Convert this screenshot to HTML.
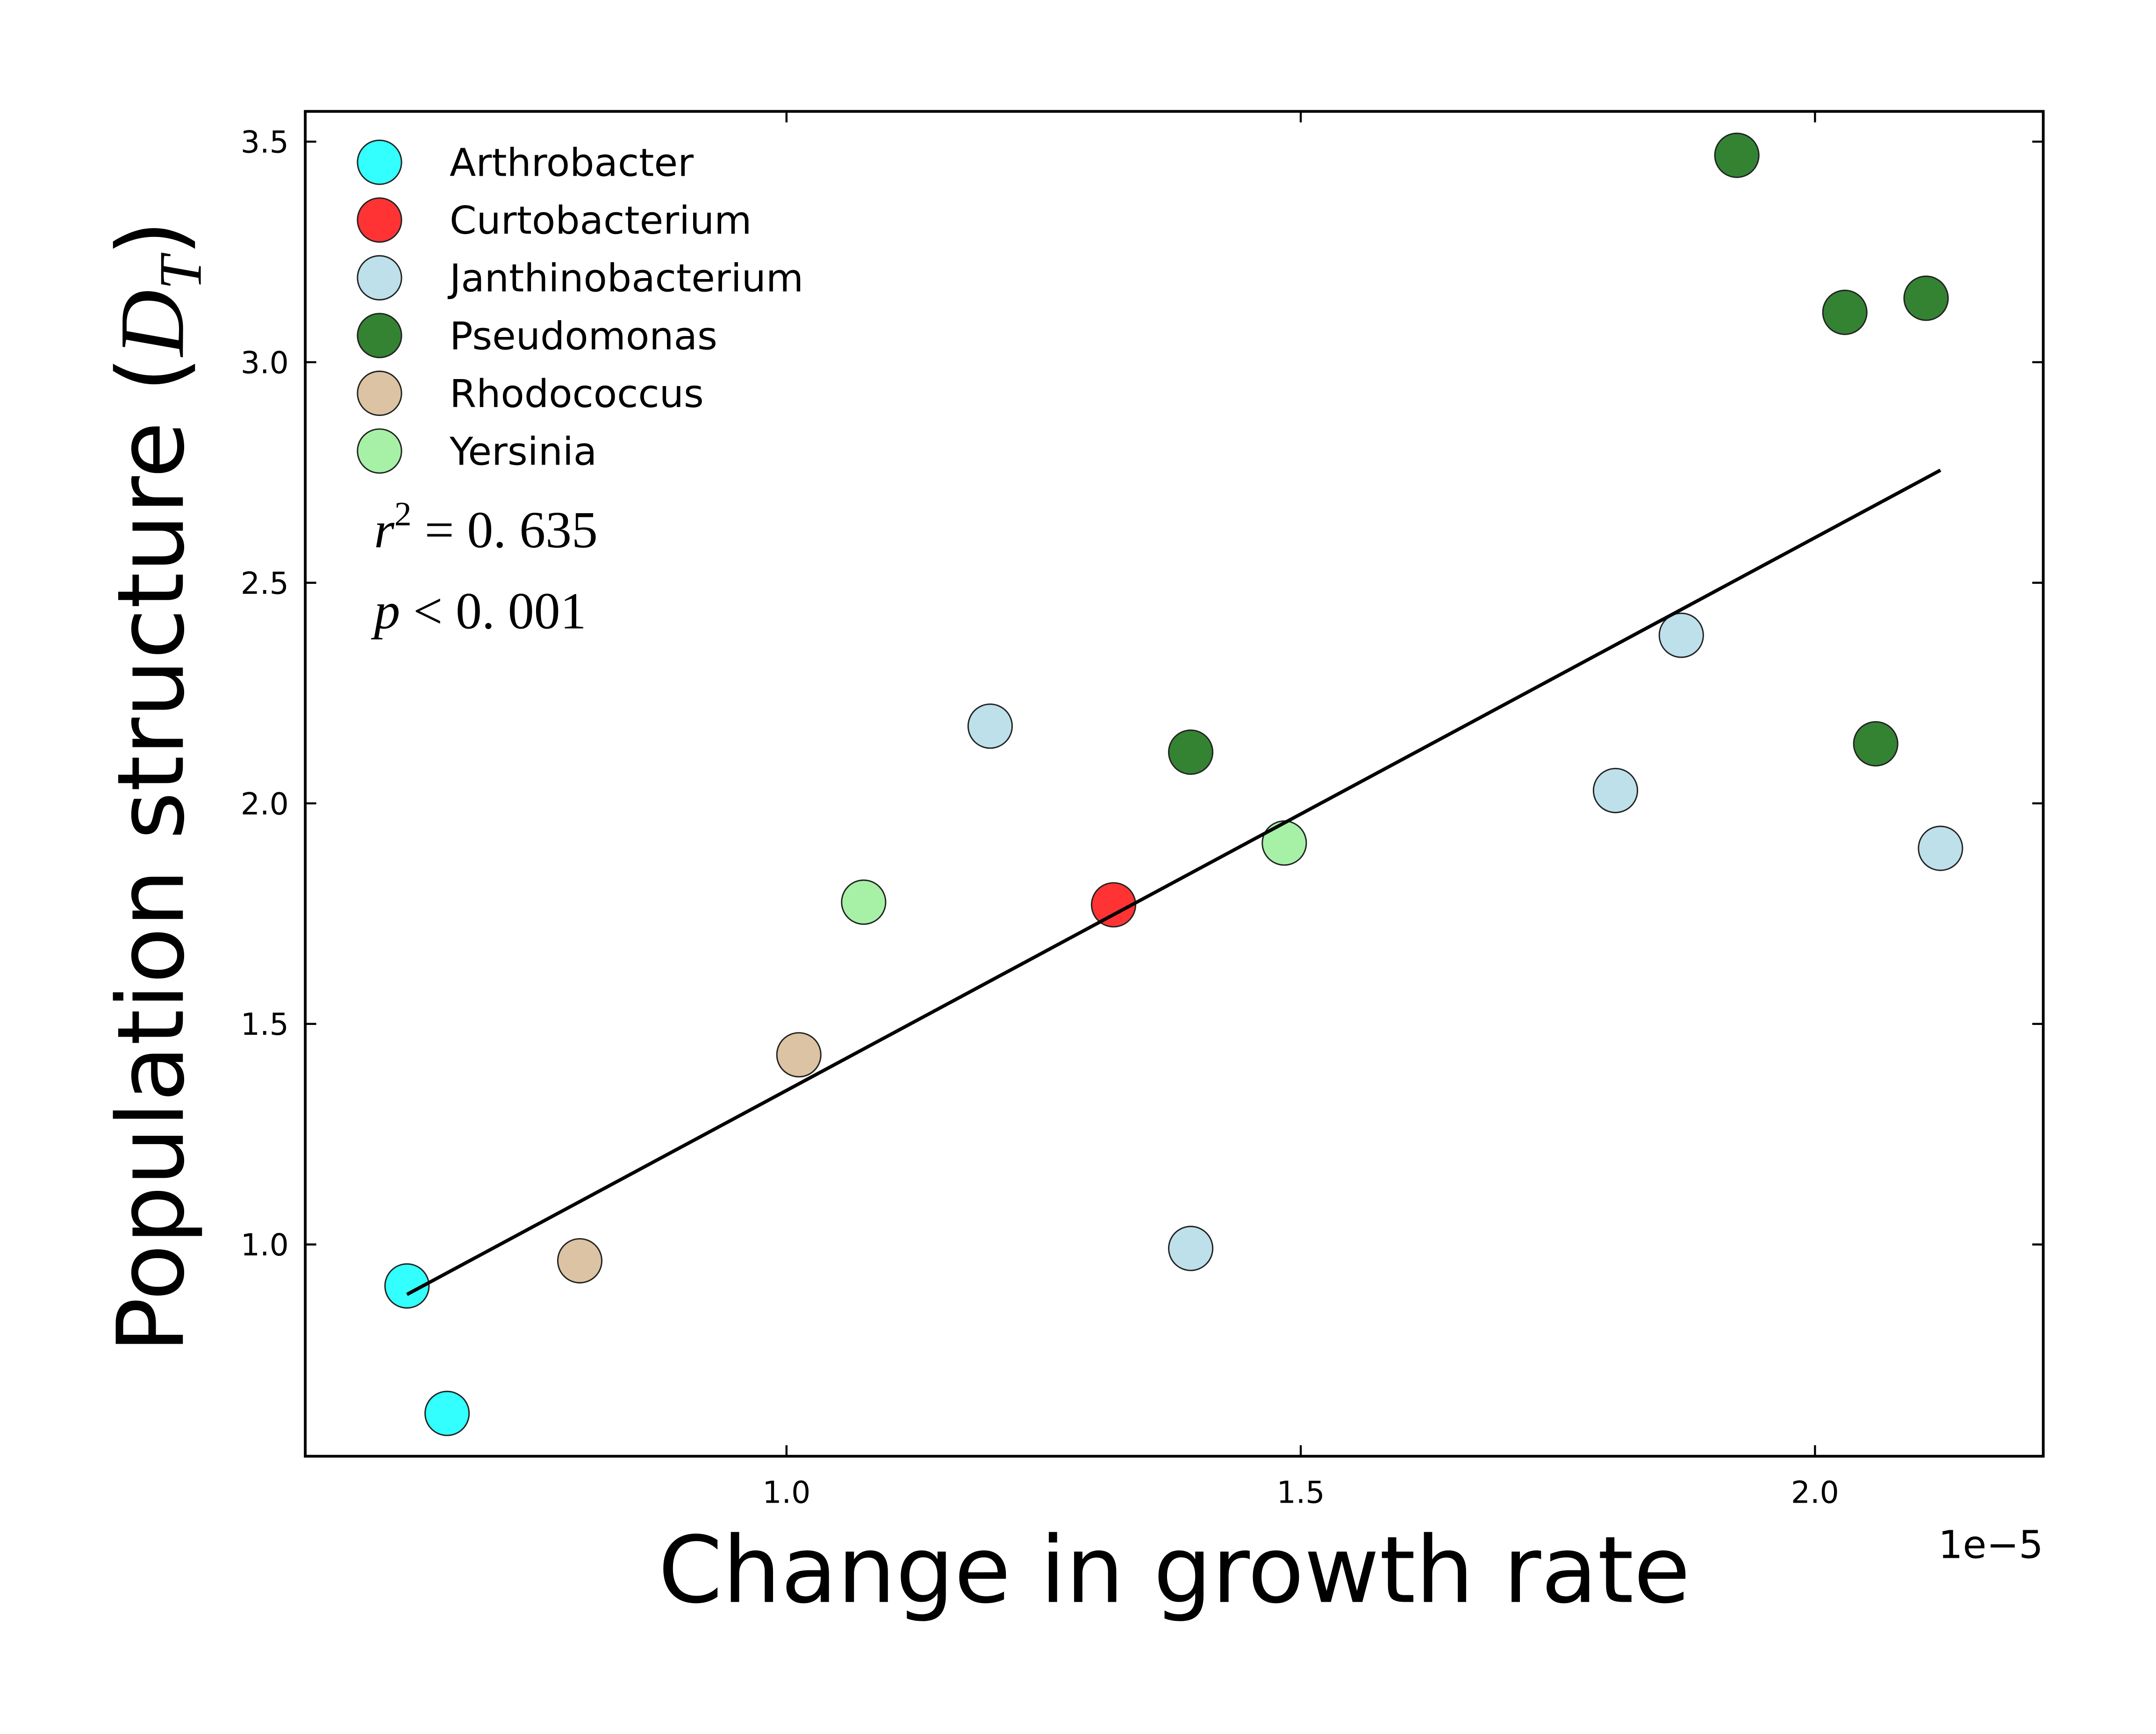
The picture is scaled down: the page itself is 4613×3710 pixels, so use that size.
<!DOCTYPE html>
<html><head><meta charset="utf-8">
<style>html,body{margin:0;padding:0;background:#fff;}svg{display:block;}</style>
</head><body>
<svg id="chart" width="4613" height="3710" viewBox="0 0 1568 1261" preserveAspectRatio="none" xmlns="http://www.w3.org/2000/svg" font-family="'DejaVu Sans','Liberation Sans',sans-serif">
<rect width="1568" height="1261" fill="#fff"/>
<g id="marks"></g>
<rect x="222" y="81" width="1264" height="978" fill="none" stroke="#000" stroke-width="2"/>
<g id="ticks"></g>
<text x="854" y="1165" font-size="67" text-anchor="middle">Change in growth rate</text>
<text x="1486" y="1133" font-size="28" text-anchor="end">1e−5</text>
<text transform="translate(133,572) rotate(-90)" font-size="67" text-anchor="middle">Population structure (<tspan font-family="'Liberation Serif',serif" font-style="italic">D<tspan font-size="44" dy="13">T</tspan></tspan><tspan dy="-13">)</tspan></text>
<text x="272" y="398" font-size="38" font-family="'Liberation Serif',serif"><tspan font-style="italic">r</tspan><tspan font-size="25" dy="-16">2</tspan><tspan dy="16"> = 0. 635</tspan></text>
<text x="272" y="457" font-size="38" font-family="'Liberation Serif',serif"><tspan font-style="italic">p</tspan> &lt; 0. 001</text>
<g id="legend"></g>
</svg>
<script>
const groups = ["Arthrobacter","Curtobacterium","Janthinobacterium","Pseudomonas","Rhodococcus","Yersinia"];
const colors = ["#33ffff","#ff3333","#bde0eb","#338333","#dbc3a3","#a6f1a6"];
const xVals = [[0.631,0.670],[1.318],[1.198,1.393,1.806,1.870,2.122],[1.924,2.029,2.108,2.059,1.393],[0.799,1.012],[1.075,1.484]];
const yVals = [[0.906,0.617],[1.770],[2.175,0.991,2.029,2.381,1.898],[3.469,3.113,3.145,2.135,2.116],[0.963,1.430],[1.776,1.910]];
const xTicks = [1.0,1.5,2.0];
const xTickLabels = ["1.0","1.5","2.0"];
const yTicks = [1.0,1.5,2.0,2.5,3.0,3.5];
const yTickLabels = ["1.0","1.5","2.0","2.5","3.0","3.5"];

const NS="http://www.w3.org/2000/svg";
const X=v=>572+(v-1.0)*748;
const Y=v=>905-(v-1.0)*320.8;
function mk(t,a,p){const e=document.createElementNS(NS,t);for(const k in a)e.setAttribute(k,a[k]);p.appendChild(e);return e;}
const marks=document.getElementById('marks'),ticks=document.getElementById('ticks'),legend=document.getElementById('legend');

let xs=[],ys=[];xVals.forEach((a,i)=>a.forEach((v,j)=>{xs.push(v);ys.push(yVals[i][j]);}));
const n=xs.length,mx=xs.reduce((a,b)=>a+b)/n,my=ys.reduce((a,b)=>a+b)/n;
let sxy=0,sxx=0;xs.forEach((v,i)=>{sxy+=(v-mx)*(ys[i]-my);sxx+=(v-mx)**2;});
const slope=sxy/sxx,icp=my-slope*mx,x0=Math.min(...xs),x1=Math.max(...xs);

groups.forEach((g,i)=>{
  xVals[i].forEach((v,j)=>{
    const c=mk('circle',{cx:X(v),cy:Y(yVals[i][j]),r:16,fill:colors[i],stroke:'#222','stroke-width':1},marks);
    
    
  });
  const ly=118+i*42;
  const lc=mk('circle',{cx:276,cy:ly,r:16,fill:colors[i],stroke:'#222','stroke-width':1},legend);
  
  
  const lt=mk('text',{x:327,y:ly+10,'font-size':28},legend);lt.textContent=g;
  
  
});
const line=mk('line',{x1:X(x0),y1:Y(icp+slope*x0),x2:X(x1),y2:Y(icp+slope*x1),stroke:'#000','stroke-width':2.5},marks);



xTicks.forEach((v,i)=>{
  const x=X(v);
  mk('line',{x1:x,y1:1059,x2:x,y2:1051,stroke:'#000','stroke-width':1.5},ticks);
  mk('line',{x1:x,y1:81,x2:x,y2:89,stroke:'#000','stroke-width':1.5},ticks);
  const t=mk('text',{x:x,y:1093,'font-size':22,'text-anchor':'middle'},ticks);t.textContent=xTickLabels[i];
  
  
});
yTicks.forEach((v,i)=>{
  const y=Y(v);
  mk('line',{x1:222,y1:y,x2:230,y2:y,stroke:'#000','stroke-width':1.5},ticks);
  mk('line',{x1:1486,y1:y,x2:1478,y2:y,stroke:'#000','stroke-width':1.5},ticks);
  const t=mk('text',{x:210,y:y+8,'font-size':22,'text-anchor':'end'},ticks);t.textContent=yTickLabels[i];
  
  
});
</script>
</body></html>
